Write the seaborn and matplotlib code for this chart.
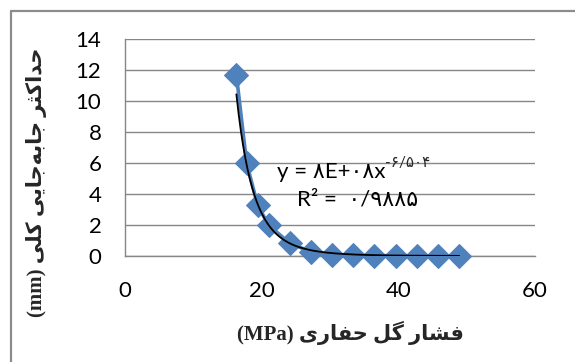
import numpy as np
import pandas as pd
import seaborn as sns
import matplotlib
matplotlib.use("Agg")
import matplotlib.pyplot as plt
from matplotlib.lines import Line2D

# Mud pressure (MPa) vs. maximum total displacement (mm)
pressure_mpa = [16.3, 17.8, 19.4, 21.0, 24.1, 27.2, 30.3, 33.4, 36.5, 39.6, 42.7, 45.8, 48.9]
displacement_mm = [11.7, 6.0, 3.3, 2.0, 0.82, 0.28, 0.08, 0.05, 0.03, 0.02, 0.01, 0.01, 0.01]

# Power-law trendline y = a * x^b as reported on the chart
trend_a = 8e8
trend_b = -6.504

x_ticks = [0, 20, 40, 60]
y_ticks = [0, 2, 4, 6, 8, 10, 12, 14]

x_label_fa = "فشار گل حفاری"
y_label_fa = "حداکثر جابه\u200cجایی کلی"
eq_main = "y = ۸E+۰۸x"
eq_exp = "-۶/۵۰۴"
r2_text = "R² =  ۰/۹۸۸۵"

BLUE = "#4F81BD"
GRID = "#868686"

# Contextual forms (isolated, final, initial, medial) for the letters used
FORMS = {
    "ا": ("\uFE8D", "\uFE8E", None, None),
    "ب": ("\uFE8F", "\uFE90", "\uFE91", "\uFE92"),
    "ث": ("\uFE99", "\uFE9A", "\uFE9B", "\uFE9C"),
    "ج": ("\uFE9D", "\uFE9E", "\uFE9F", "\uFEA0"),
    "ح": ("\uFEA1", "\uFEA2", "\uFEA3", "\uFEA4"),
    "د": ("\uFEA9", "\uFEAA", None, None),
    "ر": ("\uFEAD", "\uFEAE", None, None),
    "ش": ("\uFEB5", "\uFEB6", "\uFEB7", "\uFEB8"),
    "ف": ("\uFED1", "\uFED2", "\uFED3", "\uFED4"),
    "ل": ("\uFEDD", "\uFEDE", "\uFEDF", "\uFEE0"),
    "ه": ("\uFEE9", "\uFEEA", "\uFEEB", "\uFEEC"),
    "ک": ("\uFB8E", "\uFB8F", "\uFB90", "\uFB91"),
    "گ": ("\uFB92", "\uFB93", "\uFB94", "\uFB95"),
    "ی": ("\uFBFC", "\uFBFD", "\uFBFE", "\uFBFF"),
}


def shape_rtl(text):
    """Join Persian letters and return them in visual (left-to-right) order."""
    out = []
    for i, ch in enumerate(text):
        if ch not in FORMS:
            if ch != "\u200c":
                out.append(ch)
            continue
        prev = text[i - 1] if i > 0 else ""
        nxt = text[i + 1] if i + 1 < len(text) else ""
        joins_prev = prev in FORMS and FORMS[prev][2] is not None
        joins_next = FORMS[ch][2] is not None and nxt in FORMS
        iso, fin, ini, med = FORMS[ch]
        if joins_prev and joins_next:
            out.append(med)
        elif joins_prev:
            out.append(fin)
        elif joins_next:
            out.append(ini)
        else:
            out.append(iso)
    return "".join(reversed(out))


sns.set_theme(style="white")
plt.rcParams["font.family"] = ["Lato", "DejaVu Sans"]

fig = plt.figure(figsize=(5.75, 3.62), dpi=100)
ax = fig.add_axes([125 / 575, 1 - 256 / 362, 410 / 575, (256 - 39.3) / 362])

df = pd.DataFrame({"pressure": pressure_mpa, "displacement": displacement_mm})
sns.lineplot(data=df, x="pressure", y="displacement", ax=ax, color=BLUE,
             linewidth=2.6, marker="D", markersize=12.5,
             markeredgecolor=BLUE, markerfacecolor=BLUE, sort=False,
             zorder=3, clip_on=False)

xs = np.linspace(min(pressure_mpa), max(pressure_mpa), 300)
ax.plot(xs, trend_a * xs ** trend_b, color="black", linewidth=1.3, zorder=4)

ax.set_xlim(0, 60)
ax.set_ylim(0, 14)
ax.set_xticks(x_ticks)
ax.set_yticks(y_ticks)
ax.tick_params(axis="y", labelsize=16, length=0, pad=17, colors="black")
ax.tick_params(axis="x", labelsize=16, length=0, pad=18, colors="black")
ax.yaxis.grid(True, color=GRID, linewidth=1.0)
ax.xaxis.grid(False)
for side in ["top", "right"]:
    ax.spines[side].set_visible(False)
for side in ["left", "bottom"]:
    ax.spines[side].set_color(GRID)
    ax.spines[side].set_linewidth(1.0)
ax.set_xlabel("")
ax.set_ylabel("")

# Trendline equation and fit quality
t1 = ax.text(277 / 575, 1 - 172 / 362, eq_main, transform=fig.transFigure,
             fontsize=16, ha="left", va="center", color="black",
             family=["Lato", "DejaVu Sans"], zorder=5)
ax.annotate(eq_exp, xy=(1.0, 0.62), xycoords=t1, fontsize=11,
            ha="left", va="bottom", family=["Lato", "DejaVu Sans"], zorder=5)
ax.text(358 / 575, 1 - 200 / 362, r2_text, transform=fig.transFigure,
        fontsize=16, ha="center", va="center", color="black",
        family=["Lato", "DejaVu Sans"], zorder=5)

# Axis titles: unit in a serif face, Persian words right-to-left
fig.text(350 / 575, 1 - 333 / 362, "(MPa) " + shape_rtl(x_label_fa),
         fontsize=15, fontweight="bold", ha="center", va="center",
         family=["Liberation Serif", "DejaVu Sans"])
fig.text(37 / 575, 1 - 182 / 362, "(mm) " + shape_rtl(y_label_fa),
         fontsize=15, fontweight="bold", ha="center", va="center",
         rotation=90, family=["Liberation Serif", "DejaVu Sans"])

# Chart-area frame
fig.add_artist(Line2D([11 / 575, 11 / 575], [-0.1, 1 - 11 / 362],
                      transform=fig.transFigure, color="#8C8C8C", linewidth=1.6))
fig.add_artist(Line2D([11 / 575, 1.1], [1 - 11 / 362, 1 - 11 / 362],
                      transform=fig.transFigure, color="#8C8C8C", linewidth=1.6))

fig.savefig("out.png", dpi=100)
